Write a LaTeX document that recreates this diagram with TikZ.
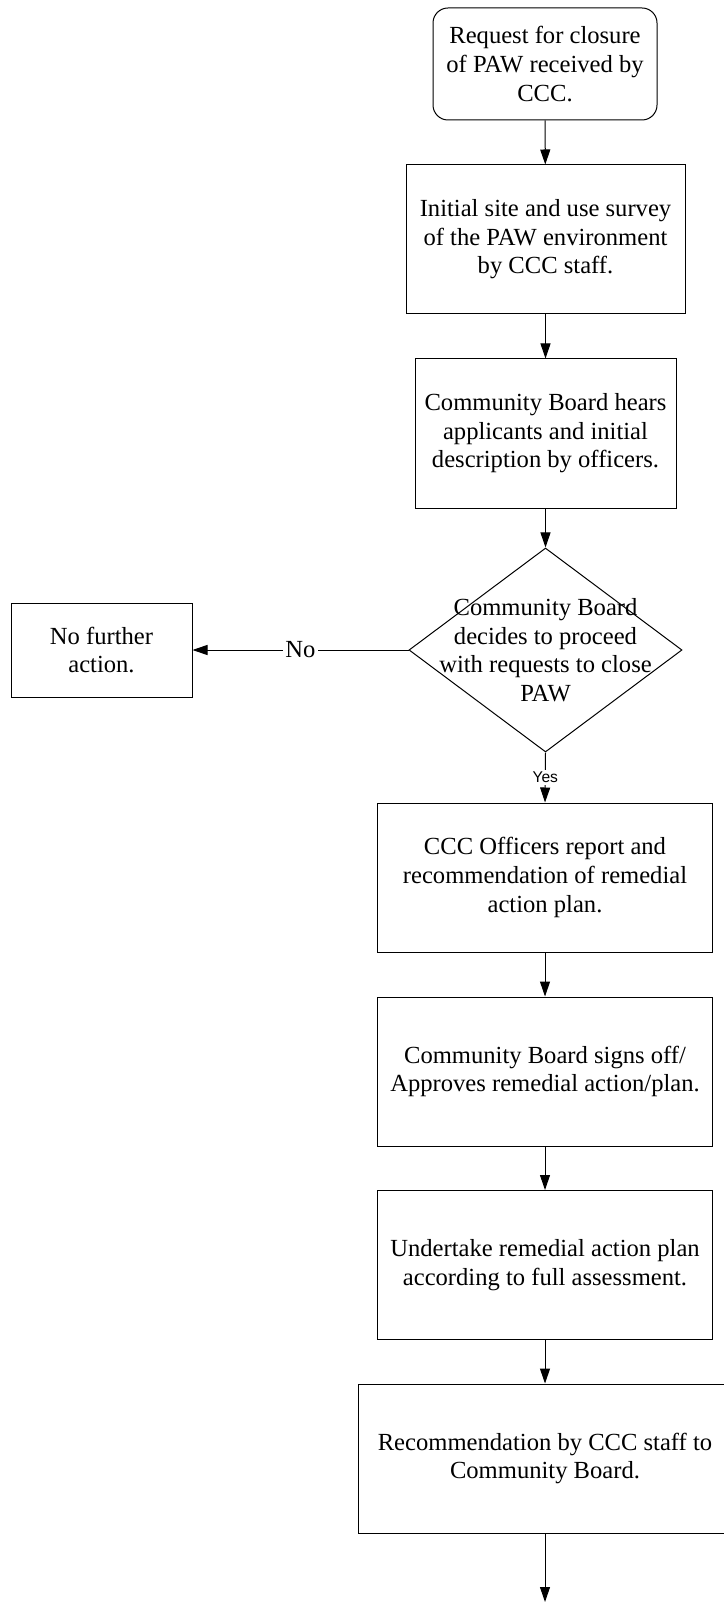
\documentclass[tikz,border=0pt]{standalone}
\usepackage{fontspec}
\setmainfont{Liberation Serif}
\setsansfont{Liberation Sans}
\usetikzlibrary{shapes.geometric,arrows.meta}

\begin{document}
\begin{tikzpicture}[x=0.5pt,y=-0.5pt,
  every node/.style={font=\fontsize{12.3}{14.3}\selectfont, align=center},
  flowbox/.style={draw, line width=0.5pt, inner sep=0pt, minimum height=74.5pt},
  startbox/.style={draw, line width=0.5pt, inner sep=0pt, rounded corners=7.5pt},
  decision/.style={draw, diamond, line width=0.5pt, inner sep=0pt,
    minimum width=136.5pt, minimum height=102pt},
  flowline/.style={draw, line width=0.5pt, -{Triangle[length=7.5pt,width=5pt]}},
  nolabel/.style={fill=white, inner sep=1pt},
  yeslabel/.style={font=\sffamily\fontsize{7.8}{9}\selectfont, fill=white, inner sep=1pt}]

  \useasboundingbox (0,0) rectangle (723,1604);

  \node[startbox, minimum width=112pt, minimum height=56pt] (request) at (545,64)
    {Request for closure\\of PAW received by\\CCC.};
  \node[flowbox, minimum width=139.5pt] (survey) at (545.5,239.5)
    {Initial site and use survey\\of the PAW environment\\by CCC staff.};
  \node[flowbox, minimum width=130.5pt] (hears) at (545.5,433.5)
    {Community Board hears\\applicants and initial\\description by officers.};
  \node[decision, label={center:{Community Board\\decides to proceed\\with requests to close\\PAW}}]
    (decide) at (545.5,650) {};
  \node[flowbox, minimum width=90.5pt, minimum height=47pt] (nofurther) at (101.5,650)
    {No further\\action.};
  \node[flowbox, minimum width=167.5pt] (officers) at (545,877.5)
    {CCC Officers report and\\recommendation of remedial\\action plan.};
  \node[flowbox, minimum width=167.5pt] (signoff) at (545,1071.5)
    {Community Board signs off/\\Approves remedial action/plan.};
  \node[flowbox, minimum width=167.5pt] (undertake) at (545,1265)
    {Undertake remedial action plan\\according to full assessment.};
  \node[flowbox, minimum width=187pt] (recommend) at (545,1458.5)
    {Recommendation by CCC staff to\\Community Board.};
  \coordinate (tail) at (545,1602);

  \draw[flowline] (request) -- (survey);
  \draw[flowline] (survey) -- (hears);
  \draw[flowline] (hears) -- (decide);
  \draw[flowline] (decide.west) -- node[nolabel] {No} (nofurther.east);
  \draw[flowline] (decide.south) -- node[yeslabel] {Yes} (officers.north);
  \draw[flowline] (officers) -- (signoff);
  \draw[flowline] (signoff) -- (undertake);
  \draw[flowline] (undertake) -- (recommend);
  \draw[flowline] (recommend) -- (tail);

\end{tikzpicture}
\end{document}
